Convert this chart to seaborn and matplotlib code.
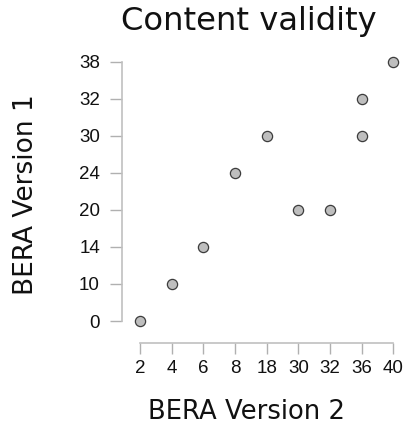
import matplotlib
matplotlib.use("Agg")
import matplotlib.pyplot as plt
import seaborn as sns
import pandas as pd

# Ordinal tick values shown on each axis
x_ticks = [2, 4, 6, 8, 18, 30, 32, 36, 40]
y_ticks = [0, 10, 14, 20, 24, 30, 32, 38]

# Scores under the two BERA versions
bera_v2 = [2, 4, 6, 8, 18, 30, 32, 36, 36, 40]
bera_v1 = [0, 10, 14, 24, 30, 20, 20, 30, 32, 38]

df = pd.DataFrame({
    "x": [x_ticks.index(v) for v in bera_v2],
    "y": [y_ticks.index(v) for v in bera_v1],
})

sns.set_style("white")
W, H = 407, 429
PX = 72 / 100  # points per pixel at dpi 100
fig = plt.figure(figsize=(W / 100, H / 100), dpi=100)
ax = fig.add_axes([140 / W, (H - 321) / H, (393.3 - 140) / W, (321 - 61.7) / H])

sns.scatterplot(data=df, x="x", y="y", ax=ax, s=54, color="#bebebe",
                edgecolor="#3c3c3c", linewidth=0.9, clip_on=False, zorder=3)

ax.set_xlim(0, len(x_ticks) - 1)
ax.set_ylim(0, len(y_ticks) - 1)
ax.set_xticks(range(len(x_ticks)))
ax.set_xticklabels([str(v) for v in x_ticks])
ax.set_yticks(range(len(y_ticks)))
ax.set_yticklabels([str(v) for v in y_ticks])

for side in ("top", "right"):
    ax.spines[side].set_visible(False)
ax.spines["left"].set_position(("outward", 18.3 * PX))
ax.spines["bottom"].set_position(("outward", 21.7 * PX))
for side in ("left", "bottom"):
    ax.spines[side].set_color("#c0c0c0")
    ax.spines[side].set_linewidth(1.2)

ax.tick_params(axis="both", which="both", width=1.0, color="#b0b0b0",
               labelsize=13.5, labelcolor="#111111", left=True, bottom=True)
ax.tick_params(axis="y", length=12.4 * PX, pad=9.3 * PX)
ax.tick_params(axis="x", length=10.6 * PX, pad=6.5 * PX)
for lab in ax.get_xticklabels() + ax.get_yticklabels():
    lab.set_family(["Liberation Sans", "DejaVu Sans"])

ax.set_xlabel("")
ax.set_ylabel("")
fig.text(248.5 / W, 1 - 30 / H, "Content validity", ha="center", va="baseline",
         fontsize=23.2, family=["DejaVu Sans"], color="#111111")
fig.text(246.5 / W, 1 - 419 / H, "BERA Version 2", ha="center", va="baseline",
         fontsize=18.6, family=["DejaVu Sans"], color="#111111")
fig.text(26.5 / W, 1 - 195 / H, "BERA Version 1", ha="center", va="center",
         rotation=90, fontsize=19, family=["DejaVu Sans"], color="#111111")

fig.savefig("out.png", dpi=100)
